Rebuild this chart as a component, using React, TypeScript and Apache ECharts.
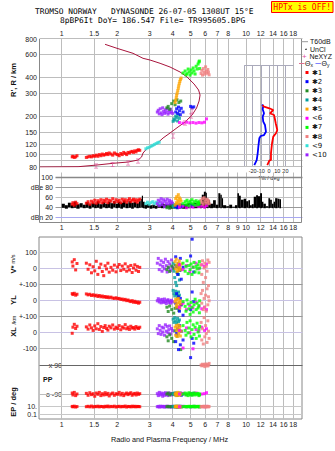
import React, { useEffect, useRef } from "react";
import * as echarts from "echarts";

const FONT = "Liberation Sans, Arial, sans-serif";
const MONO = "DejaVu Sans Mono, monospace";
const lg = Math.log10;

// frequency axis (log scale, MHz)
const F_MIN = 0.753;
const F_MAX = 20.1;
const topFreqTicks = [1, 1.5, 2, 3, 4, 5, 6, 7, 8, 10, 12, 14, 16, 18];
const midFreqTicks = [1, 1.5, 2, 3, 4, 5, 6, 7, 8, 9, 10, 12, 14, 16, 18];
const heightTicks = [80, 90, 100, 120, 150, 200, 300, 400, 600, 800];
const ampTicks = [20, 40, 60, 80, 100];
const ampTickText: Record<number, string> = { 20: "dBn 20", 40: "40", 60: "60", 80: "dBe 80", 100: "100" };

// real-height profile [f MHz, h km]
const profile = [
  [0.753, 80.0], [1.226, 80.4], [1.554, 82.9], [1.898, 85.5], [2.29, 87.5], [2.594, 90.7],
  [2.71, 95.7], [2.761, 102.9], [2.903, 111.6], [3.09, 116.7], [3.289, 122.1], [3.545, 134.8],
  [3.869, 147.5], [4.276, 164.3], [4.667, 179.7], [5.093, 203.8], [5.389, 231.2], [5.559, 262.1],
  [5.628, 292.1], [5.524, 319.6], [5.223, 355.9], [4.785, 403.7], [4.384, 441.8], [3.869, 483.3],
  [3.415, 516.7], [3.013, 548.1], [2.761, 565.2], [2.437, 618.4], [1.995, 676.6], [1.718, 727],
];
// NeXYZ markers on the profile
const neMarks = [
  [1.535, 81.4], [1.887, 83.7], [2.29, 86.0], [2.594, 89.1], [4.018, 139.7], [4.667, 176.5], [5.03, 200.2], [5.093, 219],
];
// tilt profiles [deg, h km]
const thetaX = [
  [-2.1, 82.9], [0.4, 89.6], [2.4, 90.7], [2.4, 102.3], [3.7, 122.6], [5.2, 138.0], [8.5, 146.7], [10.1, 155.6],
  [8.2, 175.6], [7, 192.1], [6.1, 203.8], [3.3, 207.6], [1.2, 210.1], [5.2, 223.0], [0.4, 230.0], [-6.1, 236.7], [-7.7, 244.1],
];
const thetaY = [
  [-17.9, 82.9], [-15, 90.7], [-13.8, 102.3], [-13, 115.2], [-11.8, 134.1], [-10.1, 139.7], [-6.1, 142.2], [-3.7, 151.0],
  [-4.9, 170.2], [-7, 180.7], [-7.7, 197.7], [-6.1, 210.1], [-7.7, 225.9], [-7, 239.7], [-8.5, 245.4],
];
// noise amplitude band [f MHz, low dB, high dB]
const noise = [
  [1.0, 40, 48], [1.04, 38, 45], [1.08, 41, 50], [1.12, 39, 46], [1.16, 40, 52], [1.2, 38, 47], [1.25, 41, 49], [1.3, 39, 46],
  [1.35, 40, 51], [1.4, 38, 47], [1.45, 41, 50], [1.5, 39, 48], [1.55, 40, 53], [1.6, 38, 47], [1.66, 41, 51], [1.72, 39, 48],
  [1.78, 40, 52], [1.84, 38, 49], [1.9, 41, 53], [1.96, 39, 48], [2.02, 40, 52], [2.08, 38, 50], [2.15, 41, 54], [2.22, 39, 49],
  [2.3, 40, 53], [2.38, 38, 50], [2.46, 41, 52], [2.54, 39, 49], [2.62, 40, 53], [2.68, 41, 58], [2.72, 40, 64], [2.76, 39, 52],
  [2.82, 38, 46], [2.9, 40, 47], [3.0, 38, 45], [3.1, 39, 46], [3.2, 38, 44], [3.3, 40, 46], [3.45, 39, 48], [3.6, 40, 47],
  [3.8, 38, 48], [4.0, 39, 46], [4.25, 40, 48], [4.5, 38, 47], [4.8, 39, 49], [5.0, 40, 48], [5.18, 39, 50], [5.45, 40, 52],
  [5.63, 39, 50], [5.75, 40, 66], [5.9, 39, 72], [6.05, 40, 70], [6.12, 39, 58], [6.25, 40, 55], [6.38, 39, 48], [6.62, 40, 55],
  [6.85, 39, 46], [7.07, 40, 69], [7.25, 39, 66], [7.38, 40, 59], [7.5, 39, 45], [7.8, 40, 43], [8.1, 39, 46], [8.4, 40, 42],
  [8.7, 39, 45], [8.97, 40, 69], [9.15, 39, 64], [9.36, 40, 56], [9.7, 39, 58], [10.0, 40, 53], [10.29, 39, 55], [10.5, 40, 45],
  [10.74, 39, 47], [11.0, 40, 62], [11.33, 39, 65], [11.6, 40, 63], [11.91, 39, 69], [12.2, 40, 52], [12.41, 39, 48], [12.8, 40, 43],
  [13.21, 39, 59], [13.5, 40, 56], [13.79, 39, 48], [14.1, 40, 52], [14.37, 39, 59], [14.8, 40, 58], [15.16, 39, 57],
];

// echoes: [f MHz, h' km, amp dB, V* m/s, YL km, XL km, PP deg, EP deg]
const echoes1 = [
  [1.14, 96, 47, 38, 40, -8, -84, 12], [1.15, 97, 50, 12, 34, 30, -96, 9], [1.17, 95, 45, 52, 42, 48, -80, 14],
  [1.19, 96, 51, -12, 30, 22, -100, 8], [1.21, 98, 48, 28, 36, 36, -90, 11], [1.36, 95, 49, 30, 38, 32, -86, 10],
  [1.39, 96, 52, -8, 32, 18, -98, 13], [1.42, 97, 47, 20, 36, 44, -82, 9], [1.45, 96, 53, -30, 28, 26, -94, 15],
  [1.48, 98, 50, 8, 33, 10, -88, 8], [1.51, 97, 55, -18, 26, 38, -104, 12], [1.54, 99, 49, 42, 30, 20, -84, 10],
  [1.57, 97, 54, -40, 22, 52, -92, 14], [1.6, 100, 51, 2, 28, 16, -80, 9], [1.63, 98, 56, 24, 20, 34, -100, 12],
  [1.66, 101, 50, -22, 25, 4, -88, 11], [1.69, 99, 55, -48, 18, 28, -96, 8], [1.72, 100, 52, 14, 22, 40, -82, 13],
  [1.75, 102, 57, -6, 16, 22, -94, 10], [1.78, 100, 50, 30, 20, 12, -86, 15], [1.81, 103, 55, -26, 14, 36, -102, 9],
  [1.85, 101, 53, 4, 18, 26, -90, 12], [1.89, 99, 58, -14, 12, 44, -84, 10], [1.93, 103, 51, 18, 10, 18, -98, 14],
  [1.97, 101, 56, -24, 14, 30, -88, 8], [2.01, 100, 52, 6, 8, 22, -92, 11], [2.05, 98, 55, 22, 10, 40, -80, 13],
  [2.09, 102, 50, -16, 4, 14, -96, 9], [2.13, 100, 57, 12, 6, 32, -86, 12], [2.17, 104, 53, -8, 0, 24, -100, 10],
  [2.21, 102, 56, 26, 4, 46, -90, 15], [2.25, 100, 51, -20, -4, 20, -84, 8], [2.29, 104, 55, 8, 0, 30, -94, 12],
  [2.33, 103, 58, -12, -6, 16, -88, 11], [2.37, 105, 52, 16, -10, 36, -82, 9], [2.41, 106, 55, -28, -4, 24, -98, 14],
  [2.45, 104, 57, 0, -14, 28, -90, 10], [2.49, 107, 53, 20, -8, 18, -86, 13], [2.53, 105, 56, -14, -16, 34, -96, 9],
  [2.57, 108, 51, 10, -12, 26, -84, 12], [2.61, 109, 55, -22, -20, 22, -92, 11], [2.65, 108, 57, 4, -14, 30, -88, 10],
];
const echoes2 = [
  [4.15, 215, 42, 70, -20, -60, -90, 10], [4.2, 228, 44, 10, 40, -10, -86, 12], [4.25, 210, 40, -40, -50, 20, -96, 9],
  [4.3, 235, 43, 25, 20, -110, -88, 11], [4.35, 220, 41, -15, -70, 40, -92, 10], [4.4, 205, 45, 60, 10, -80, -84, 13],
  [4.45, 230, 42, -70, -30, 5, -98, 9], [4.55, 215, 44, 5, -95, -50, -90, 12], [5.0, 238, 46, 75, -60, -160, -88, 10],
  [5.1, 232, 43, 180, 50, -40, -94, 11], [5.2, 236, 45, -25, -10, -70, -86, 12],
];
const echoes3 = [
  [3.72, 232, 40, -10, -45, -30, -90, 10], [3.78, 238, 42, 5, -72, -55, -84, 12], [3.85, 226, 39, -22, -38, -18, -96, 9],
  [3.95, 250, 43, 12, -60, -40, -88, 11], [4.05, 262, 41, -4, -82, -60, -92, 10], [4.12, 245, 44, 18, -52, 8, -86, 13],
  [4.22, 268, 40, -28, -44, -26, -98, 9], [4.32, 255, 42, 2, -66, 12, -90, 12], [4.42, 262, 41, -12, -30, -110, -88, 11],
];
const echoes4 = [
  [4.02, 182, 43, 30, 60, 80, -88, 10], [4.06, 190, 45, -20, 40, 60, -94, 12], [4.1, 186, 41, -60, 25, 90, -84, 9],
  [4.15, 200, 46, -90, 55, 70, -96, 11], [4.2, 195, 42, -110, 35, 55, -90, 10], [4.25, 183, 44, 10, 20, 85, -86, 13],
  [4.3, 204, 43, -40, 50, 65, -92, 9], [4.35, 192, 45, -75, 30, 75, -88, 12],
];
const echoes5 = [
  [4.12, 255, 45, 40, -10, 30, -92, 10], [4.15, 266, 58, -5, 5, -20, -84, 12], [4.18, 278, 50, 55, -30, 40, -100, 9],
  [4.2, 290, 62, 15, -45, 10, -88, 14], [4.23, 302, 48, -20, 0, -28, -96, 11], [4.26, 316, 55, 30, -20, 25, -80, 10],
  [4.29, 330, 66, 0, 10, 44, -90, 13], [4.31, 344, 52, -15, -40, -10, -86, 8], [4.34, 358, 60, 45, -15, 15, -98, 12],
  [4.37, 372, 46, 10, -50, 35, -84, 10], [4.4, 385, 57, -10, -5, -25, -94, 11], [4.44, 396, 53, 25, -25, 5, -88, 9],
];
const echoes6 = [
  [4.35, 178, 41, 20, -45, 10, -90, 10], [4.55, 176, 43, -10, -20, -100, -86, 12], [4.75, 179, 40, 15, -60, 25, -94, 9],
  [4.95, 177, 42, -25, -35, -5, -88, 11], [5.15, 178, 41, 5, -50, -105, -92, 10], [5.35, 176, 44, 30, -15, 15, -84, 12],
  [5.55, 178, 42, -5, -40, 5, -96, 9], [5.75, 177, 43, 20, -55, 30, -90, 11], [5.95, 179, 41, 10, -45, 10, -88, 10],
  [6.1, 190, 44, 25, -60, 20, -82, 12],
];
const echoes7 = [
  [4.55, 434, 48, 30, -10, 40, -90, 10], [4.67, 450, 52, -20, -40, 10, -84, 12], [4.72, 420, 46, 10, -70, -20, -96, 9],
  [4.78, 428, 55, 45, 0, 60, -88, 11], [4.85, 466, 50, -35, -25, -5, -100, 10], [4.9, 442, 44, 15, -55, 25, -82, 13],
  [4.97, 418, 53, -10, -90, 70, -94, 9], [5.03, 458, 49, 25, -15, -30, -86, 12], [5.09, 434, 56, -40, -45, 15, -98, 10],
  [5.16, 475, 47, 5, -75, 45, -90, 11], [5.22, 450, 52, 35, -30, -15, -84, 14], [5.29, 426, 45, -25, 5, 30, -96, 8],
  [5.36, 490, 54, 10, -60, -40, -88, 12], [5.42, 466, 50, -5, -20, 55, -92, 10], [5.49, 510, 46, 20, -50, 0, -86, 11],
  [5.55, 529, 51, -30, -35, 20, -100, 13], [5.58, 538, 48, 40, -80, -25, -90, 9], [5.6, 470, 53, 0, -5, 35, -94, 10],
];
const echoes8 = [
  [5.7, 430, 55, 20, 40, 60, 90, 10], [5.75, 455, 50, -40, -20, -50, 85, 12], [5.8, 418, 58, 45, 60, 20, 95, 9],
  [5.86, 470, 47, -90, -60, -75, 88, 11], [5.92, 442, 60, 0, 10, 90, 92, 14], [5.97, 425, 52, 30, -45, -30, 80, 10],
  [6.03, 485, 56, -60, 30, 40, 96, 8], [6.08, 450, 49, 10, -70, -10, 86, 12], [6.14, 432, 57, -20, 70, -65, 94, 10],
  [6.2, 462, 51, 50, -30, 70, 84, 13], [6.25, 440, 54, -110, 20, 5, 90, 9], [6.3, 420, 48, 35, -5, -40, 100, 11],
];
// <9 echoes carry height and amplitude only
const echoes9 = [
  [2.86, 111, 48], [2.92, 113, 51], [2.98, 114, 47], [3.05, 116, 50], [3.12, 118, 52], [3.18, 120, 48],
  [3.25, 122, 51], [3.32, 124, 49], [3.38, 125, 47],
];
const echoes10 = [
  [3.3, 215, 48, 30, -5, 20, -88, 10], [3.34, 222, 55, 60, 8, -10, -100, 12], [3.38, 208, 44, -10, -12, 40, -80, 8],
  [3.42, 228, 52, 20, 0, 10, -96, 14], [3.46, 212, 58, 45, -18, -15, -84, 9], [3.5, 205, 46, -20, 4, 30, -92, 11],
  [3.53, 232, 50, 10, -8, 0, -104, 13], [3.57, 218, 56, 35, -15, 25, -86, 10], [3.61, 210, 42, -5, 6, -20, -98, 8],
  [3.65, 224, 53, 55, -10, 45, -82, 12], [3.69, 214, 48, 15, -22, 5, -94, 10], [3.73, 229, 57, -25, -4, 35, -88, 14],
  [3.77, 207, 45, 40, 2, -5, -100, 9], [3.81, 220, 51, 0, -16, 15, -84, 11], [3.85, 212, 55, 25, -6, 38, -92, 12],
  [3.89, 226, 47, -15, -20, -12, -86, 10], [3.94, 216, 52, 50, -2, 22, -96, 8], [3.99, 210, 49, 5, -12, 8, -90, 13],
];

// cluster tags placed on the ionogram [text, f MHz, h km]
const tags: [string, number, number][] = [
  ["✱1", 2.116, 92.9], ["<9", 3.289, 108.6], ["<10", 3.86, 196.7], ["✱2", 4.495, 225.0], ["✱4", 4.55, 180.0],
  ["✱5", 4.551, 292.1], ["<6", 5.628, 156.5], ["✱7", 5.36, 436], ["✱8", 6.2, 416],
];

const clusters = [
  { name: "✱1", color: "#ff0000", rows: echoes1 },
  { name: "✱2", color: "#0000ff", rows: echoes2 },
  { name: "✱3", color: "#228b22", rows: echoes3 },
  { name: "✱4", color: "#009e9e", rows: echoes4 },
  { name: "✱5", color: "#ffa500", rows: echoes5 },
  { name: "<6", color: "#ff00ff", rows: echoes6 },
  { name: "✱7", color: "#00ff00", rows: echoes7 },
  { name: "✱8", color: "#f08080", rows: echoes8 },
  { name: "<9", color: "#33e0d8", rows: echoes9 },
  { name: "<10", color: "#9922ff", rows: echoes10 },
];
const drawOrder = [8, 0, 9, 2, 3, 1, 4, 5, 6, 7];

const XMIN = lg(F_MIN);
const XMAX = lg(F_MAX);
const LEFT = 39;
const WIDTH = 263;

const tickFont = { fontSize: 7, fontFamily: FONT, color: "#222" };
const fmtFreq = (v: number) => String(Math.round(Math.pow(10, v) * 10) / 10);

function freqAxis(gridIndex: number, labels?: number[], position = "bottom") {
  return {
    type: "value", gridIndex, min: XMIN, max: XMAX, position,
    axisLine: { show: false }, axisTick: { show: false }, splitLine: { show: false },
    axisLabel: labels
      ? { show: true, customValues: labels.map(lg), formatter: fmtFreq, margin: 2, showMinLabel: true, showMaxLabel: true, ...tickFont }
      : { show: false },
  };
}

const snap = (v: number) => Math.round(v - 0.5) + 0.5;

// straight guide lines [x0, y0, x1, y1] drawn in axis coordinates, snapped to whole pixels
function guides(idx: number, segs: number[][], color: string, width = 1) {
  return {
    type: "custom", xAxisIndex: idx, yAxisIndex: idx, silent: true, z: 1,
    encode: { x: [0, 2], y: [1, 3] },
    data: segs,
    renderItem: (_p: any, api: any) => {
      const a = api.coord([api.value(0), api.value(1)]);
      const b = api.coord([api.value(2), api.value(3)]);
      return {
        type: "line",
        shape: { x1: snap(a[0]), y1: snap(a[1]), x2: snap(b[0]), y2: snap(b[1]) },
        style: { stroke: color, lineWidth: width, fill: null },
      };
    },
  };
}
const hs = (y: number, x0 = XMIN) => [x0, y, XMAX, y];
const vs = (f: number, y0: number, y1: number) => [lg(f), y0, lg(f), y1];

function buildOption() {
  const grid = [
    { left: LEFT, top: 39, width: WIDTH, height: 128 }, // 0 heights
    { left: 244.4, top: 65.1, width: 49.2, height: 101.9 }, // 1 tilt inset
    { left: LEFT, top: 172, width: WIDTH, height: 50 }, // 2 amplitude
    { left: LEFT, top: 237, width: WIDTH, height: 182, show: true, borderColor: "#888", borderWidth: 1 }, // 3 lower frame
    { left: LEFT, top: 237, width: WIDTH, height: 47 }, // 4 V*
    { left: LEFT, top: 284, width: WIDTH, height: 32 }, // 5 YL
    { left: LEFT, top: 316, width: WIDTH, height: 32 }, // 6 XL
    { left: LEFT, top: 365, width: WIDTH, height: 29 }, // 7 PP
    { left: LEFT, top: 406.7, width: WIDTH, height: 7.3 }, // 8 EP
  ];

  const xAxis: any[] = [
    freqAxis(0, topFreqTicks, "top"),
    {
      type: "value", gridIndex: 1, min: -30, max: 30, interval: 10,
      axisLine: { show: false }, axisTick: { show: false },
      splitLine: { show: true, lineStyle: { color: "#aab", width: 1 } },
      axisLabel: {
        show: true, interval: 0, margin: 1, fontSize: 5.5, fontFamily: FONT, color: "#222",
        formatter: (v: number) => (Math.abs(v) <= 20 ? String(v) : ""),
      },
      name: "Tilt / deg", nameLocation: "middle", nameGap: 8,
      nameTextStyle: { fontSize: 5.5, fontFamily: FONT, color: "#222" },
    },
    freqAxis(2, midFreqTicks, "bottom"),
    freqAxis(3, topFreqTicks, "bottom"),
    freqAxis(4), freqAxis(5), freqAxis(6), freqAxis(7), freqAxis(8),
  ];

  const hideY = (gridIndex: number, min: number, max: number) => ({
    type: "value", gridIndex, min, max, axisLine: { show: false }, axisTick: { show: false },
    splitLine: { show: false }, axisLabel: { show: false },
  });
  const labY = (gridIndex: number, min: number, max: number, vals: number[], fmt: (v: number) => string, extra: any = {}) => ({
    type: "value", gridIndex, min, max, axisLine: { show: false }, axisTick: { show: false },
    splitLine: { show: false },
    axisLabel: {
      show: true, customValues: vals, formatter: fmt, margin: 2, hideOverlap: false,
      showMinLabel: true, showMaxLabel: true, ...tickFont, ...extra,
    },
  });

  const HMIN = lg(80);
  const HMAX = lg(800);
  const yAxis: any[] = [
    labY(0, HMIN, HMAX, heightTicks.map(lg), (v) => String(Math.round(Math.pow(10, v)))),
    hideY(1, lg(80), lg(500)),
    labY(2, 11.4, 111.4, ampTicks, (v) => ampTickText[Math.round(v)] ?? "", { inside: true, align: "right", margin: 14 }),
    hideY(3, 0, 1),
    labY(4, -100, 193.75, [100, 0, -100], (v) => (v === -100 ? "+-100" : String(v))),
    labY(5, -100, 100, [0, -100], (v) => (v === -100 ? "+-100" : String(v))),
    labY(6, -100, 100, [0, -100], (v) => String(v)),
    labY(7, -90, 90, [90, -90], (v) => (v > 0 ? "x 90" : "o -90"), { inside: true, align: "right", margin: 23 }),
    labY(8, -1, 1, [1, -1], (v) => (v > 0 ? "10." : "0.1")),
  ];

  const dbStart = lg(0.92);
  const light = "#bdbdbd";
  const series: any[] = [
    // grid lines
    guides(0, [...topFreqTicks.map((f) => vs(f, HMIN, HMAX)), ...heightTicks.map((h) => hs(lg(h)))], light),
    guides(1, [[-30, lg(500), 30, lg(500)]], "#aab"),
    guides(2, midFreqTicks.map((f) => vs(f, 11.4, 111.4)), light),
    guides(2, [hs(60, dbStart)], "#c0c0c0"),
    guides(2, [hs(80, dbStart), hs(40, dbStart)], "#999"),
    guides(2, [hs(100, dbStart)], "#888", 1.3),
    guides(2, [hs(20, dbStart)], "#a8a8f0"),
    guides(3, topFreqTicks.map((f) => vs(f, 0, 1)), light),
    guides(4, [hs(100)], "#c8c8c8"),
    guides(4, [hs(0)], "#c8c2e4"),
    guides(4, [hs(-100)], "#999"),
    guides(5, [hs(0)], "#c8c2e4"),
    guides(5, [hs(-100)], "#999"),
    guides(6, [hs(0)], "#c8c2e4"),
    guides(6, [hs(-100)], "#bdbdbd"),
    guides(7, [hs(90)], "#666"),
    guides(7, [hs(-90)], "#bdbdbd"),
    guides(8, [hs(1), hs(-1)], "#c8c8c8"),
  ];

  // noise band: one block per sample from its low to its high level
  series.push({
    type: "custom", xAxisIndex: 2, yAxisIndex: 2, silent: true, z: 2,
    encode: { x: [0, 3], y: [1, 2] },
    data: noise.map((n, i) => [lg(n[0]), n[1], n[2], lg(i + 1 < noise.length ? noise[i + 1][0] : n[0] * 1.02)]),
    renderItem: (_p: any, api: any) => {
      const a = api.coord([api.value(0), api.value(2)]);
      const b = api.coord([api.value(3), api.value(1)]);
      return { type: "rect", shape: { x: a[0], y: a[1], width: Math.max(1, b[0] - a[0]), height: b[1] - a[1] }, style: { fill: "#000" } };
    },
  });

  // profile
  series.push({
    type: "line", xAxisIndex: 0, yAxisIndex: 0, symbol: "none", silent: true,
    data: profile.map((p) => [lg(p[0]), lg(p[1])]), lineStyle: { color: "#a8143c", width: 1 }, z: 3,
  });

  // tilt inset
  series.push({
    type: "line", xAxisIndex: 1, yAxisIndex: 1, symbol: "none", silent: true,
    data: thetaY.map((p) => [p[0], lg(p[1])]), lineStyle: { color: "#0000ff", width: 1.8 }, z: 3,
  });
  series.push({
    type: "line", xAxisIndex: 1, yAxisIndex: 1, symbol: "none", silent: true,
    data: thetaX.map((p) => [p[0], lg(p[1])]), lineStyle: { color: "#ff0000", width: 1.8 }, z: 3,
  });

  // echo clusters in every panel
  drawOrder.forEach((ci) => {
    const c = clusters[ci];
    const sq = (idx: number, data: number[][]) => ({
      type: "scatter", xAxisIndex: idx, yAxisIndex: idx, data, symbol: "rect", symbolSize: 3,
      itemStyle: { color: c.color }, clip: false, silent: true, z: 4,
    });
    series.push(sq(0, c.rows.map((r) => [lg(r[0]), lg(r[1])])));
    series.push(sq(2, c.rows.map((r) => [lg(r[0]), r[2]])));
    const full = c.rows.filter((r) => r.length >= 8);
    if (full.length) {
      series.push(sq(4, full.map((r) => [lg(r[0]), r[3]])));
      series.push(sq(5, full.map((r) => [lg(r[0]), r[4]])));
      series.push(sq(6, full.map((r) => [lg(r[0]), r[5]])));
      series.push(sq(7, full.map((r) => [lg(r[0]), r[6]])));
      series.push(sq(8, full.map((r) => [lg(r[0]), lg(r[7])])));
    }
  });

  series.push({
    type: "scatter", xAxisIndex: 0, yAxisIndex: 0, silent: true, z: 5,
    symbol: "path://M0,0H5V1H3V5H5V6H0V5H2V1H0Z", symbolSize: [4, 5],
    itemStyle: { color: "#e0509a" }, data: neMarks.map((p) => [lg(p[0]), lg(p[1])]),
  });

  series.push({
    type: "scatter", xAxisIndex: 0, yAxisIndex: 0, silent: true, z: 6, symbolSize: 1,
    itemStyle: { opacity: 0 },
    label: {
      show: true, position: "inside", formatter: "{b}", color: "#000", fontSize: 7, fontWeight: "bold",
      fontFamily: "DejaVu Sans, sans-serif", textBorderColor: "#fff", textBorderWidth: 1,
    },
    data: tags.map((t) => ({ name: t[0], value: [lg(t[1]), lg(t[2])] })),
  });

  // text and legend
  const txt = (x: number, y: number, text: string, extra: any = {}) => ({
    type: "text", x, y, z: 20, silent: true,
    style: { text, fontSize: 7, fontFamily: FONT, fill: "#111", align: "left", verticalAlign: "middle", ...extra },
  });
  const vtxt = (x: number, y: number, text: string, extra: any = {}) => ({
    type: "text", x, y, z: 20, silent: true, rotation: Math.PI / 2,
    style: { text, fontSize: 7.5, fontFamily: FONT, fontWeight: "bold", fill: "#111", align: "center", verticalAlign: "middle", ...extra },
  });

  const legendRows = clusters.map((c, i) => {
    const y = 72.5 + i * 9.15;
    return [
      { type: "rect", z: 20, silent: true, shape: { x: 305.5, y: y - 1.5, width: 3, height: 3 }, style: { fill: c.color } },
      txt(312, y, c.name, { fontFamily: "DejaVu Sans, sans-serif", fontSize: 7 }),
    ];
  }).flat();

  const graphic: any[] = [
    txt(35, 11.8, "TROMSO NORWAY   DYNASONDE 26-07-05 1308UT 15°E", { fontFamily: MONO, fontSize: 7.9, fill: "#000" }),
    txt(60, 20.4, "8pBP6It DoY= 186.547 File= TR995605.BPG", { fontFamily: MONO, fontSize: 7.9, fill: "#000" }),
    { type: "rect", z: 19, silent: true, shape: { x: 271.5, y: 1.5, width: 61.5, height: 11 }, style: { fill: "#ffff00", stroke: "#ff0000", lineWidth: 1 } },
    txt(302.2, 7.2, "HPTx is OFF!", { fontFamily: MONO, fontSize: 8, fill: "#ff0000", align: "center" }),
    {
      type: "polyline", z: 18, silent: true,
      shape: { points: [[39.5, 39], [39.5, 222.5], [301.5, 222.5], [301.5, 39]] },
      style: { stroke: "#888", fill: "none", lineWidth: 1 },
    },
    vtxt(13, 80, "R', R / km"),
    vtxt(13, 264, "{a|V*} {b|m/s}", {
      rich: { a: { fontSize: 7.5, fontWeight: "bold", fontFamily: FONT }, b: { fontSize: 5.5, fontFamily: FONT } },
    }),
    vtxt(13, 300, "YL"),
    vtxt(14, 320, "/km", { fontSize: 5.5, fontWeight: "normal" }),
    vtxt(13, 332, "XL"),
    vtxt(13, 402, "EP / deg"),
    txt(43, 379.3, "PP", { fontWeight: "bold" }),
    txt(169.5, 439, "Radio and Plasma Frequency / MHz", { align: "center", fontSize: 7.3 }),
    // legend
    { type: "line", z: 20, silent: true, shape: { x1: 301, y1: 41.7, x2: 308, y2: 41.7 }, style: { stroke: "#999", lineWidth: 1 } },
    txt(310, 41.7, "T60dB"),
    { type: "circle", z: 20, silent: true, shape: { cx: 306, cy: 49.3, r: 0.7 }, style: { fill: "#000" } },
    txt(310, 49.3, "UnCl"),
    txt(302, 56.7, "+", { fill: "#e0509a", fontSize: 8 }),
    txt(309.5, 56.7, "NeXYZ"),
    { type: "line", z: 20, silent: true, shape: { x1: 299, y1: 63.5, x2: 304.5, y2: 63.5 }, style: { stroke: "#e07090", lineWidth: 1 } },
    txt(305, 63.5, "{a|Θ}{b|x}", { rich: { a: { fontSize: 7, fontFamily: FONT }, b: { fontSize: 5, fontFamily: FONT, verticalAlign: "bottom" } } }),
    { type: "line", z: 20, silent: true, shape: { x1: 315.5, y1: 63.5, x2: 321, y2: 63.5 }, style: { stroke: "#8080ff", lineWidth: 1 } },
    txt(321.5, 63.5, "{a|Θ}{b|y}", { rich: { a: { fontSize: 7, fontFamily: FONT }, b: { fontSize: 5, fontFamily: FONT, verticalAlign: "bottom" } } }),
    ...legendRows,
  ];

  return { animation: false, backgroundColor: "#fff", grid, xAxis, yAxis, series, graphic };
}

export default function App() {
  const ref = useRef<HTMLDivElement>(null);
  useEffect(() => {
    if (!ref.current) return;
    const chart = echarts.init(ref.current, null, { renderer: "svg" });
    chart.setOption(buildOption() as any);
    return () => chart.dispose();
  }, []);
  return (
    <div
      ref={ref}
      style={{ position: "absolute", left: 0, top: 0, width: 335, height: 451, background: "#fff" }}
    />
  );
}
